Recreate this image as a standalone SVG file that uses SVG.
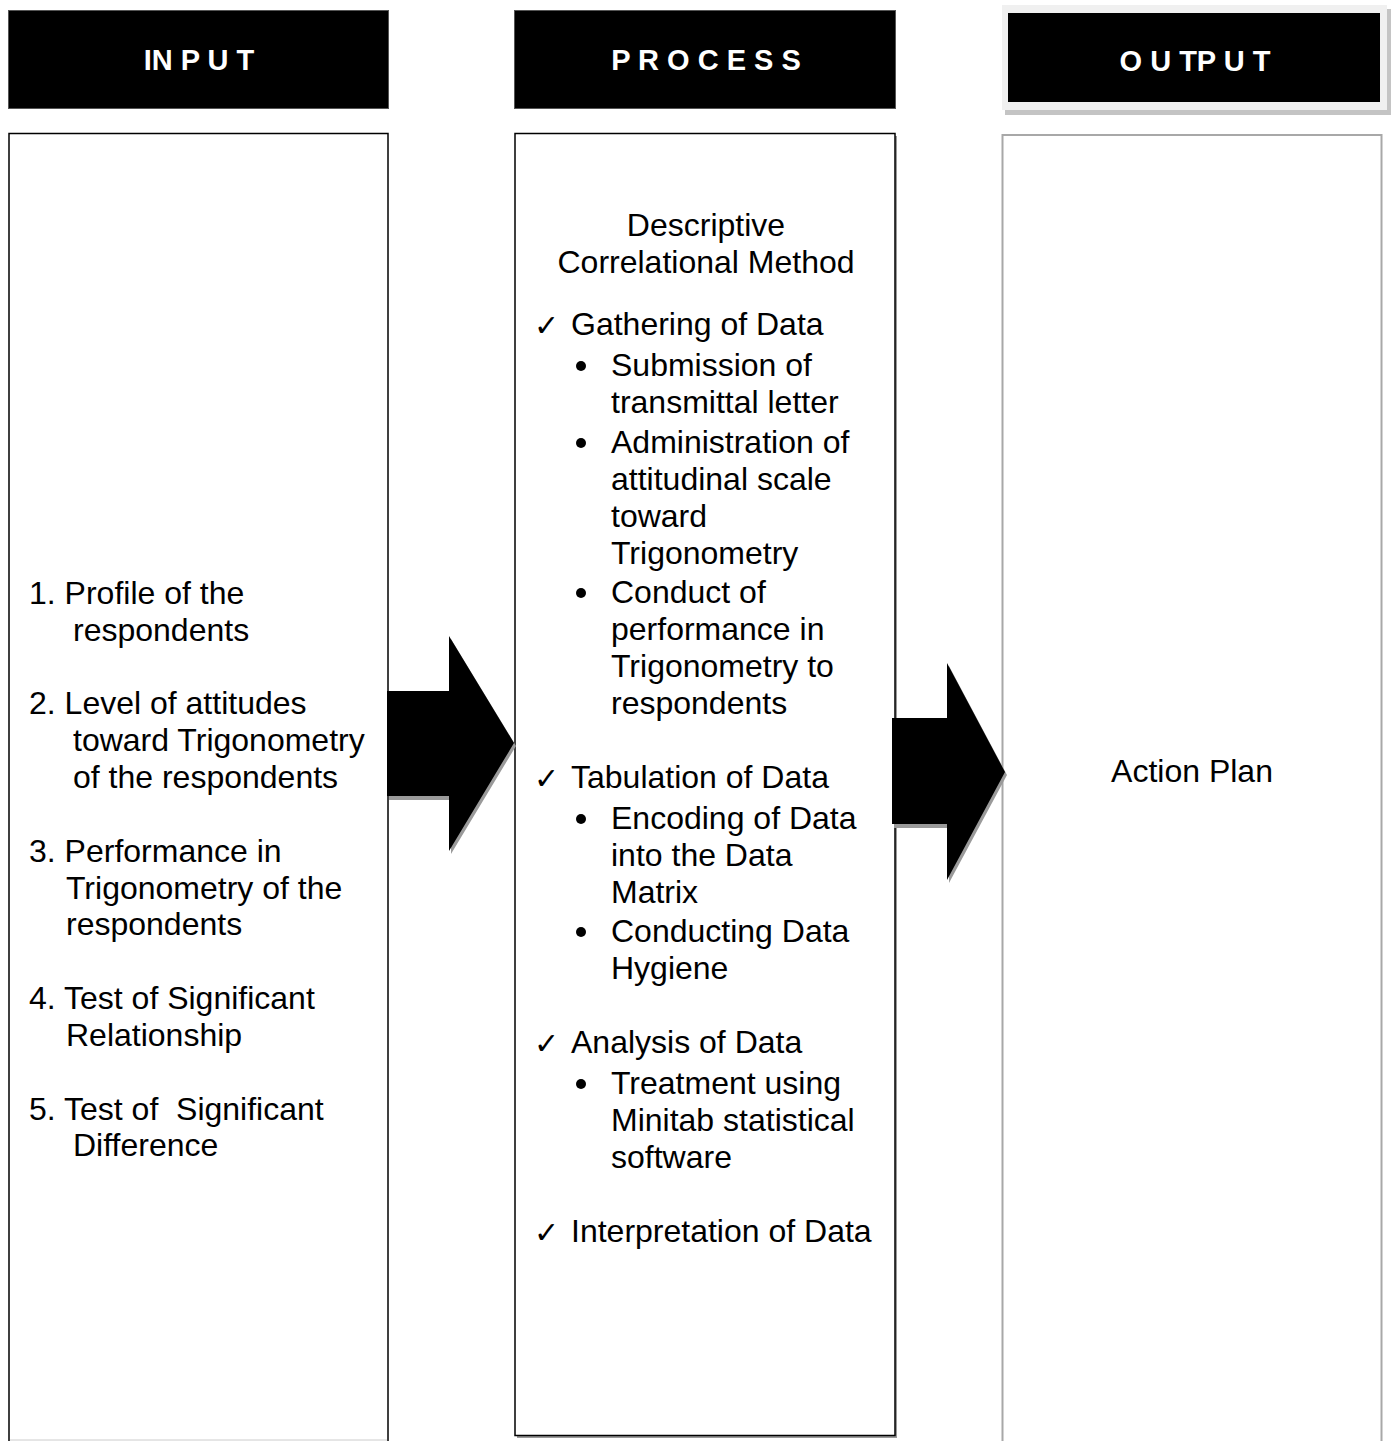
<svg xmlns="http://www.w3.org/2000/svg" width="1391" height="1441" viewBox="0 0 1391 1441">
<style>
.hdr{fill:#000;stroke:#555;stroke-width:1}
.htxt{font-family:"Liberation Sans",Arial,sans-serif;font-size:29px;font-weight:bold;fill:#fff;text-anchor:middle}
.box{fill:#fff;stroke:#000;stroke-width:1.5}
.t{font-family:"Liberation Sans",Arial,sans-serif;font-size:32px;fill:#000}
.c{text-anchor:middle}
.chk{font-family:"DejaVu Sans",sans-serif;font-size:30px;fill:#000}
.arrow{fill:#000}
.shadow{fill:#9a9a9a}
</style>
<rect width="1391" height="1441" fill="#fff"/>

<g id="input-header">
<rect class="hdr" x="8.5" y="10.5" width="380" height="98"/>
<text class="htxt" x="199" y="70">IN P U T</text>
</g>
<g id="process-header">
<rect class="hdr" x="514.5" y="10.5" width="381" height="98"/>
<text class="htxt" x="706" y="70">P R O C E S S</text>
</g>
<g id="output-header">
<rect x="1005" y="9" width="386" height="106" fill="#c4c4c4"/>
<rect x="1002" y="5" width="385" height="105" fill="#f0f0f0"/>
<rect x="1008" y="13" width="372" height="89" fill="#000"/>
<text class="htxt" x="1195" y="71">O U TP U T</text>
</g>

<g id="input-box">
<rect class="box" x="9" y="133.5" width="379" height="1320"/>
<line x1="10" y1="1440" x2="387" y2="1440" stroke="#ccc" stroke-width="1"/>
<g class="t">
<text x="29" y="604">1. Profile of the</text>
<text x="73" y="641">respondents</text>
<text x="29" y="714">2. Level of attitudes</text>
<text x="73" y="751">toward Trigonometry</text>
<text x="73" y="788">of the respondents</text>
<text x="29" y="862">3. Performance in</text>
<text x="66" y="899">Trigonometry of the</text>
<text x="66" y="935">respondents</text>
<text x="29" y="1009">4. Test of Significant</text>
<text x="66" y="1046">Relationship</text>
<text x="29" y="1120" xml:space="preserve">5. Test of  Significant</text>
<text x="73" y="1156">Difference</text>
</g>
</g>

<g id="process-box">
<rect x="517" y="136" width="380" height="1302" fill="#999"/>
<rect class="box" x="515" y="133.5" width="380" height="1302"/>
<g class="t">
<text class="c" x="706" y="236">Descriptive</text>
<text class="c" x="706" y="273">Correlational Method</text>
<text x="571" y="335">Gathering of Data</text>
<text x="611" y="376">Submission of</text>
<text x="611" y="413">transmittal letter</text>
<text x="611" y="453">Administration of</text>
<text x="611" y="490">attitudinal scale</text>
<text x="611" y="527">toward</text>
<text x="611" y="564">Trigonometry</text>
<text x="611" y="603">Conduct of</text>
<text x="611" y="640">performance in</text>
<text x="611" y="677">Trigonometry to</text>
<text x="611" y="714">respondents</text>
<text x="571" y="788">Tabulation of Data</text>
<text x="611" y="829">Encoding of Data</text>
<text x="611" y="866">into the Data</text>
<text x="611" y="903">Matrix</text>
<text x="611" y="942">Conducting Data</text>
<text x="611" y="979">Hygiene</text>
<text x="571" y="1053">Analysis of Data</text>
<text x="611" y="1094">Treatment using</text>
<text x="611" y="1131">Minitab statistical</text>
<text x="611" y="1168">software</text>
<text x="571" y="1242">Interpretation of Data</text>
</g>
<g class="chk">
<text x="534" y="336">✓</text>
<text x="534" y="789">✓</text>
<text x="534" y="1054">✓</text>
<text x="534" y="1243">✓</text>
</g>
<g fill="#000">
<circle cx="581" cy="366" r="5"/>
<circle cx="581" cy="443" r="5"/>
<circle cx="581" cy="593" r="5"/>
<circle cx="581" cy="819" r="5"/>
<circle cx="581" cy="932" r="5"/>
<circle cx="581" cy="1084" r="5"/>
</g>
</g>

<g id="output-box">
<rect x="1002.5" y="135" width="379" height="1320" fill="#fff" stroke="#a8a8a8" stroke-width="2"/>
<text class="t c" x="1192" y="782">Action Plan</text>
</g>

<g id="connectors">
<polygon class="shadow" points="389,694 451,694 451,639 516,746 451,854 451,800 389,800"/>
<polygon class="arrow" points="387,691 449,691 449,636 514,743 449,851 449,796 387,796"/>
<polygon class="shadow" points="894,721 949,721 949,666 1007,775 949,883 949,828 894,828"/>
<polygon class="arrow" points="892,718 947,718 947,663 1005,772 947,880 947,824 892,824"/>
</g>
</svg>
